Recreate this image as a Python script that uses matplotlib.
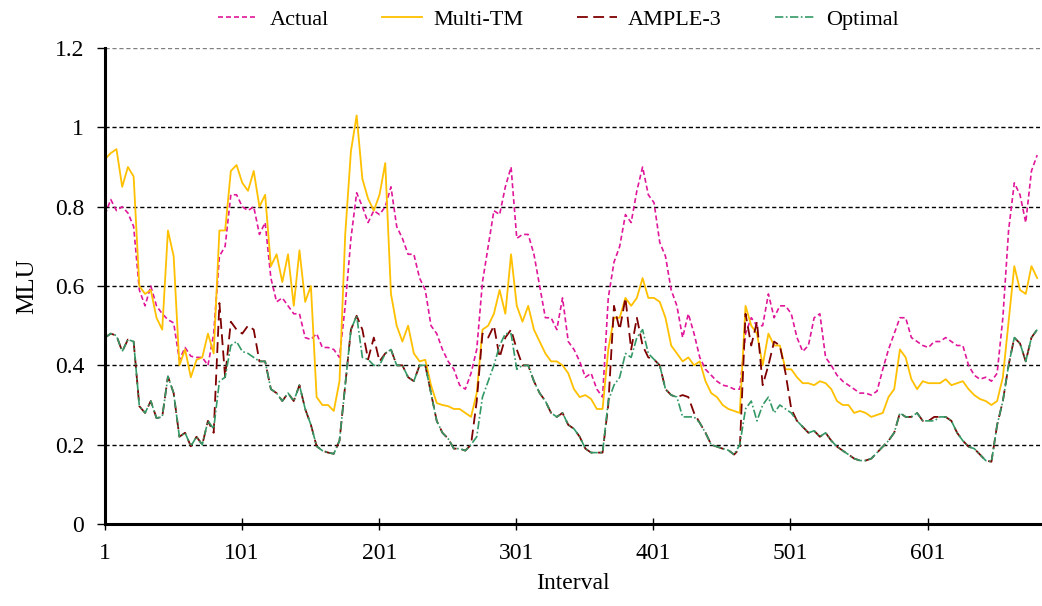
import numpy as np
from matplotlib import pyplot as plt

actual = [
    0.78, 0.818, 0.79, 0.80, 0.784, 0.75, 0.59, 0.55, 0.60, 0.55,
    0.53, 0.515, 0.507, 0.414, 0.445, 0.423, 0.42, 0.42, 0.40, 0.48,
    0.675, 0.70, 0.83, 0.83, 0.80, 0.79, 0.80, 0.73, 0.76, 0.62,
    0.56, 0.57, 0.55, 0.53, 0.53, 0.47, 0.465, 0.48, 0.445, 0.445,
    0.44, 0.42, 0.55, 0.72, 0.835, 0.80, 0.76, 0.79, 0.78, 0.80,
    0.85, 0.75, 0.72, 0.68, 0.68, 0.62, 0.59, 0.50, 0.48, 0.44,
    0.41, 0.39, 0.35, 0.34, 0.38, 0.44, 0.61, 0.70, 0.79, 0.78,
    0.85, 0.90, 0.72, 0.73, 0.73, 0.68, 0.60, 0.52, 0.52, 0.49,
    0.57, 0.46, 0.44, 0.41, 0.37, 0.38, 0.34, 0.32, 0.57, 0.66,
    0.70, 0.78, 0.76, 0.84, 0.90, 0.83, 0.81, 0.71, 0.675, 0.59,
    0.55, 0.47, 0.53, 0.48, 0.42, 0.39, 0.375, 0.36, 0.35, 0.347,
    0.34, 0.34, 0.48, 0.52, 0.50, 0.50, 0.58, 0.52, 0.55, 0.55,
    0.53, 0.47, 0.435, 0.45, 0.52, 0.53, 0.42, 0.40, 0.375, 0.36,
    0.35, 0.34, 0.33, 0.33, 0.325, 0.335, 0.39, 0.44, 0.48, 0.52,
    0.52, 0.47, 0.46, 0.45, 0.445, 0.46, 0.46, 0.47, 0.46, 0.45,
    0.45, 0.40, 0.375, 0.365, 0.37, 0.36, 0.38, 0.52, 0.74, 0.86,
    0.83, 0.76, 0.89, 0.93]

multi_tm = [
    0.92, 0.935, 0.945, 0.85, 0.90, 0.876, 0.60, 0.58, 0.59, 0.52,
    0.49, 0.74, 0.675, 0.40, 0.44, 0.37, 0.414, 0.42, 0.48, 0.43,
    0.74, 0.74, 0.89, 0.905, 0.86, 0.84, 0.89, 0.80, 0.83, 0.65,
    0.68, 0.61, 0.68, 0.55, 0.69, 0.56, 0.60, 0.32, 0.30, 0.30,
    0.285, 0.36, 0.73, 0.94, 1.03, 0.87, 0.82, 0.79, 0.83, 0.91,
    0.58, 0.50, 0.46, 0.50, 0.43, 0.41, 0.414, 0.35, 0.305, 0.30,
    0.297, 0.29, 0.29, 0.28, 0.27, 0.33, 0.49, 0.50, 0.53, 0.59,
    0.53, 0.68, 0.55, 0.51, 0.55, 0.49, 0.46, 0.43, 0.41, 0.41,
    0.40, 0.38, 0.34, 0.32, 0.325, 0.315, 0.29, 0.29, 0.44, 0.52,
    0.52, 0.57, 0.55, 0.57, 0.62, 0.57, 0.57, 0.56, 0.52, 0.45,
    0.43, 0.41, 0.42, 0.40, 0.41, 0.36, 0.33, 0.32, 0.30, 0.29,
    0.285, 0.28, 0.55, 0.50, 0.48, 0.40, 0.48, 0.45, 0.45, 0.39,
    0.39, 0.37, 0.355, 0.355, 0.35, 0.36, 0.355, 0.34, 0.31, 0.30,
    0.30, 0.28, 0.285, 0.28, 0.27, 0.275, 0.28, 0.32, 0.34, 0.44,
    0.42, 0.365, 0.34, 0.36, 0.355, 0.355, 0.355, 0.365, 0.35, 0.355,
    0.36, 0.34, 0.325, 0.315, 0.31, 0.30, 0.31, 0.37, 0.51, 0.65,
    0.59, 0.58, 0.65, 0.62]

ample3 = [
    0.47, 0.48, 0.475, 0.435, 0.465, 0.46, 0.297, 0.28, 0.31, 0.267,
    0.27, 0.372, 0.33, 0.22, 0.23, 0.196, 0.22, 0.20, 0.26, 0.23,
    0.557, 0.37, 0.51, 0.49, 0.48, 0.50, 0.49, 0.41, 0.41, 0.34,
    0.33, 0.31, 0.33, 0.31, 0.35, 0.29, 0.25, 0.196, 0.185, 0.18,
    0.177, 0.21, 0.35, 0.49, 0.525, 0.49, 0.415, 0.47, 0.41, 0.43,
    0.44, 0.40, 0.40, 0.37, 0.36, 0.40, 0.40, 0.33, 0.26, 0.23,
    0.215, 0.19, 0.19, 0.185, 0.20, 0.31, 0.48, 0.47, 0.50, 0.42,
    0.47, 0.49, 0.44, 0.40, 0.40, 0.36, 0.33, 0.31, 0.28, 0.27,
    0.28, 0.25, 0.24, 0.22, 0.19, 0.18, 0.18, 0.18, 0.30, 0.55,
    0.49, 0.57, 0.44, 0.52, 0.45, 0.42, 0.415, 0.40, 0.34, 0.325,
    0.32, 0.325, 0.32, 0.28, 0.255, 0.23, 0.20, 0.195, 0.19, 0.186,
    0.175, 0.19, 0.53, 0.45, 0.51, 0.35, 0.40, 0.46, 0.45, 0.38,
    0.29, 0.26, 0.245, 0.23, 0.235, 0.22, 0.23, 0.21, 0.195, 0.185,
    0.175, 0.165, 0.16, 0.16, 0.165, 0.18, 0.195, 0.21, 0.23, 0.28,
    0.27, 0.27, 0.28, 0.26, 0.26, 0.27, 0.27, 0.27, 0.26, 0.23,
    0.21, 0.195, 0.19, 0.175, 0.16, 0.157, 0.25, 0.31, 0.40, 0.47,
    0.455, 0.41, 0.47, 0.49]

optimal = [
    0.47, 0.48, 0.475, 0.435, 0.465, 0.46, 0.297, 0.28, 0.31, 0.267,
    0.27, 0.372, 0.33, 0.22, 0.23, 0.196, 0.22, 0.20, 0.26, 0.24,
    0.36, 0.37, 0.45, 0.46, 0.435, 0.43, 0.42, 0.41, 0.41, 0.34,
    0.33, 0.31, 0.33, 0.31, 0.35, 0.29, 0.25, 0.196, 0.185, 0.18,
    0.177, 0.21, 0.35, 0.49, 0.525, 0.42, 0.415, 0.40, 0.40, 0.43,
    0.44, 0.40, 0.40, 0.37, 0.36, 0.40, 0.40, 0.33, 0.26, 0.23,
    0.215, 0.19, 0.19, 0.185, 0.20, 0.22, 0.32, 0.36, 0.40, 0.45,
    0.48, 0.48, 0.39, 0.40, 0.40, 0.36, 0.33, 0.31, 0.28, 0.27,
    0.28, 0.25, 0.24, 0.22, 0.19, 0.18, 0.18, 0.18, 0.31, 0.35,
    0.37, 0.43, 0.42, 0.47, 0.49, 0.43, 0.415, 0.40, 0.34, 0.325,
    0.32, 0.27, 0.27, 0.27, 0.255, 0.23, 0.20, 0.195, 0.19, 0.186,
    0.175, 0.20, 0.29, 0.31, 0.26, 0.30, 0.32, 0.28, 0.30, 0.29,
    0.28, 0.26, 0.245, 0.23, 0.235, 0.22, 0.23, 0.21, 0.195, 0.185,
    0.175, 0.165, 0.16, 0.16, 0.165, 0.18, 0.195, 0.21, 0.23, 0.28,
    0.27, 0.27, 0.28, 0.26, 0.26, 0.26, 0.27, 0.27, 0.26, 0.23,
    0.21, 0.195, 0.19, 0.175, 0.16, 0.157, 0.25, 0.31, 0.40, 0.47,
    0.455, 0.41, 0.47, 0.49]

# amostras igualmente espacadas entre o intervalo 1 e 681
intervalo = np.linspace(1, 681, len(actual))
xticks = [1, 101, 201, 301, 401, 501, 601]
yticks = [0, 0.2, 0.4, 0.6, 0.8, 1.0, 1.2]
ytick_labels = ["0", "0.2", "0.4", "0.6", "0.8", "1", "1.2"]

plt.rcParams['font.family'] = ['Liberation Serif', 'DejaVu Serif']

fig = plt.figure(figsize=(10.42, 6.06), dpi=100)
ax = fig.add_axes([0.1008, 0.1353, 0.8972, 0.7855])

# linhas de grade tracejadas
for v in yticks[1:]:
    ax.axhline(v, color="black" if v < 1.1 else "#808080", lw=1.0,
               ls=(0, (3, 2)), zorder=0)

ax.plot(intervalo, actual, color="#E0179A", lw=1.2, dashes=(3, 1.8),
        label="Actual")
ax.plot(intervalo, multi_tm, color="#FFC000", lw=1.3, label="Multi-TM")
ax.plot(intervalo, ample3, color="#7F0000", lw=1.3, dashes=(6, 3),
        label="AMPLE-3")
ax.plot(intervalo, optimal, color="#339966", lw=1.2,
        dashes=(5, 1.5, 1, 1.5), label="Optimal")

ax.set_xlim(1, 683)
ax.set_ylim(0, 1.2)
ax.set_xticks(xticks)
ax.set_xticklabels([str(t) for t in xticks], fontsize=17)
ax.set_yticks(yticks)
ax.set_yticklabels(ytick_labels, fontsize=17)
ax.tick_params(axis="x", direction="inout", length=8, width=1, pad=10)
ax.tick_params(axis="y", direction="out", length=6, width=1, pad=9)

for s in ["top", "right"]:
    ax.spines[s].set_visible(False)
ax.spines["left"].set_linewidth(2.2)
ax.spines["bottom"].set_linewidth(2.2)

ax.set_xlabel("Interval", fontsize=17, labelpad=6)
ax.set_ylabel("MLU", fontsize=18, labelpad=12)

fig.legend(loc="center", bbox_to_anchor=(0.536, 0.968), ncol=4,
           frameon=False, fontsize=16, handlelength=1.8,
           columnspacing=2.4, handletextpad=0.5)

plt.savefig("out.png", dpi=100)
